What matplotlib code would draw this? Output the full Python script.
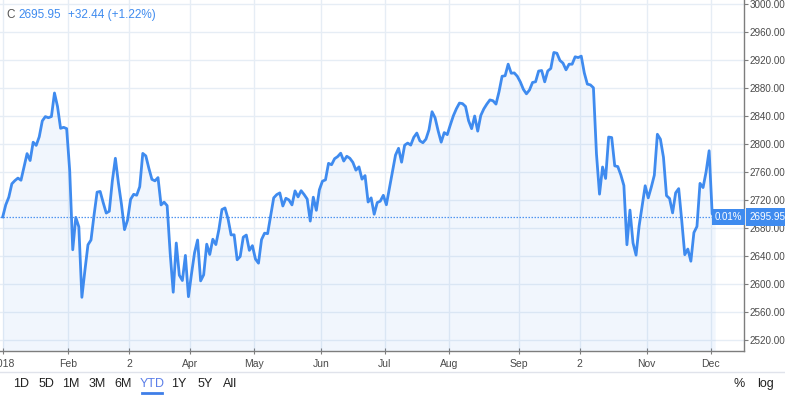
import matplotlib.pyplot as plt
import numpy as np
import pandas as pd
from matplotlib.lines import Line2D

# S&P 500 daily closes, 2018 YTD
holidays = ["2018-01-01", "2018-01-15", "2018-02-19", "2018-03-30", "2018-05-28",
            "2018-07-04", "2018-09-03", "2018-11-22", "2018-12-05"]
dates = pd.bdate_range("2018-01-02", "2018-12-06")
dates = dates[~dates.isin(pd.to_datetime(holidays))]

closes = [
    # Jan
    2695.81, 2713.06, 2723.99, 2743.15, 2747.71, 2751.29, 2748.23, 2767.56, 2786.24, 2776.42,
    2802.56, 2798.03, 2810.30, 2832.97, 2839.13, 2837.54, 2839.25, 2872.87, 2853.53, 2822.43,
    2823.81,
    # Feb
    2821.98, 2762.13, 2648.94, 2695.14, 2681.66, 2581.00, 2619.55, 2656.00, 2662.94, 2698.63,
    2731.20, 2732.22, 2716.26, 2701.33, 2703.96, 2747.30, 2779.60, 2744.28, 2713.83,
    # Mar
    2677.67, 2691.25, 2720.94, 2728.12, 2726.80, 2738.97, 2786.57, 2783.02, 2765.31, 2749.48,
    2747.33, 2752.01, 2712.92, 2716.94, 2711.93, 2643.69, 2588.26, 2658.55, 2612.62, 2605.00,
    2640.87,
    # Apr
    2581.88, 2614.45, 2644.69, 2662.84, 2604.47, 2613.16, 2656.87, 2642.19, 2663.99, 2656.30,
    2677.84, 2706.39, 2708.64, 2693.13, 2670.14, 2670.29, 2634.56, 2639.40, 2666.94, 2669.91,
    2648.05,
    # May
    2654.80, 2635.67, 2629.73, 2663.42, 2672.63, 2671.92, 2697.79, 2723.07, 2727.72, 2730.13,
    2711.45, 2722.46, 2720.13, 2712.97, 2733.01, 2724.44, 2733.29, 2727.76, 2721.33, 2689.86,
    2724.01, 2705.27,
    # Jun
    2734.62, 2746.87, 2748.80, 2772.35, 2770.37, 2779.03, 2782.00, 2786.85, 2775.63, 2782.49,
    2779.66, 2773.75, 2762.59, 2767.32, 2749.76, 2754.88, 2717.07, 2723.06, 2699.63, 2716.31,
    2718.37,
    # Jul
    2726.71, 2713.22, 2736.61, 2759.82, 2784.17, 2793.84, 2774.02, 2798.29, 2801.31, 2798.43,
    2809.55, 2815.62, 2804.49, 2801.83, 2806.98, 2820.40, 2846.07, 2837.44, 2818.82, 2802.60,
    2816.29,
    # Aug
    2813.36, 2827.22, 2840.35, 2850.40, 2858.45, 2857.70, 2853.58, 2833.28, 2821.93, 2839.96,
    2818.37, 2840.69, 2850.13, 2857.05, 2862.96, 2861.82, 2856.98, 2874.69, 2896.74, 2897.52,
    2914.04, 2901.13, 2901.52,
    # Sep
    2896.72, 2888.60, 2878.05, 2871.68, 2877.13, 2887.89, 2888.92, 2904.18, 2904.98, 2888.80,
    2904.31, 2907.95, 2930.75, 2929.67, 2919.37, 2915.56, 2905.97, 2914.00, 2913.98,
    # Oct
    2924.59, 2923.43, 2925.51, 2901.61, 2885.57, 2884.43, 2880.34, 2785.68, 2728.37, 2767.13,
    2750.79, 2809.92, 2809.21, 2768.78, 2767.78, 2755.88, 2740.69, 2656.10, 2705.57, 2658.69,
    2641.25, 2682.63, 2711.74,
    # Nov
    2740.37, 2723.06, 2738.31, 2755.45, 2813.89, 2806.83, 2781.01, 2726.22, 2722.18, 2701.58,
    2730.20, 2736.27, 2690.73, 2641.89, 2649.93, 2632.56, 2673.45, 2682.17, 2743.79, 2737.76,
    2760.17,
    # Dec
    2790.37, 2700.06, 2695.95,
]

tick_dates = ["2018-01-02", "2018-02-01", "2018-03-02", "2018-04-02", "2018-05-01", "2018-06-01",
              "2018-07-02", "2018-08-01", "2018-09-04", "2018-10-02", "2018-11-01", "2018-12-03"]
tick_labels = ["2018", "Feb", "2", "Apr", "May", "Jun", "Jul", "Aug", "Sep", "2", "Nov", "Dec"]
y_ticks = np.arange(2520, 3001, 40)

header_change = "+32.44 (+1.22%)"
ranges = ["1D", "5D", "1M", "3M", "6M", "YTD", "1Y", "5Y", "All"]

blue = "#3f8bef"
grid_c = "#e6edf5"
txt_c = "#4a4a4a"
plt.rcParams["font.family"] = ["Liberation Sans", "DejaVu Sans"]

closes = np.array(closes)
idx = np.arange(len(closes))
ticks = [dates.get_loc(pd.Timestamp(d)) + 0.5 for d in tick_dates]
ticks[0] = 0.2

fig = plt.figure(figsize=(7.85, 3.98), dpi=100)
ax = fig.add_axes([0, 1 - 351 / 398, 744 / 785, 351 / 398])

ymin, ymax = 2504.3, 3005.7
ax.fill_between(idx, closes, ymin, color=blue, alpha=0.07, lw=0)
ax.plot(idx, closes, color=blue, lw=2.0, solid_joinstyle="round", zorder=3)
ax.axhline(closes[0], xmin=0, xmax=715 / 744, color=blue, lw=0.9, ls=(0, (1.2, 1.2)),
           alpha=0.9, zorder=2)

ax.set_xlim(-0.89, 243.45)
ax.set_ylim(ymin, ymax)
ax.set_xticks(ticks)
ax.set_xticklabels(tick_labels)
ax.set_yticks(y_ticks)
ax.set_yticklabels([f"{v:.2f}" for v in y_ticks])
ax.yaxis.tick_right()
ax.grid(True, color=grid_c, lw=1)
ax.set_axisbelow(True)

for s in ["left", "top"]:
    ax.spines[s].set_visible(False)
for s in ["right", "bottom"]:
    ax.spines[s].set_color("#7d7d7d")
    ax.spines[s].set_linewidth(1)
ax.tick_params(axis="y", direction="out", length=3, pad=1, color="#7d7d7d",
               labelsize=7.1, labelcolor=txt_c)
ax.tick_params(axis="x", direction="inout", length=4, pad=4, color="#7d7d7d",
               labelsize=7.5, labelcolor=txt_c)

# last value labels
pct = (closes[-1] / closes[0] - 1) * 100
ax.annotate(f"{pct:.2f}%", xy=(742 / 744, closes[-1]), xycoords=("axes fraction", "data"),
            ha="right", va="center", fontsize=7, color="white",
            bbox=dict(boxstyle="square,pad=0.3", fc=blue, ec="none"), zorder=5,
            annotation_clip=False)
ax.annotate(f"{closes[-1]:.2f}", xy=(1.0, closes[-1]), xycoords=("axes fraction", "data"),
            xytext=(4, 0), textcoords="offset points",
            ha="left", va="center", fontsize=7.1, color="white",
            bbox=dict(boxstyle="square,pad=0.4", fc=blue, ec="none"), zorder=5,
            annotation_clip=False)

# header
fig.text(6 / 785, 1 - 15 / 398, "C", fontsize=8.5, color="#555555", va="center")
fig.text(18 / 785, 1 - 15 / 398, f"{closes[-1]:.2f}", fontsize=8.5, color=blue, va="center")
fig.text(68 / 785, 1 - 15 / 398, header_change, fontsize=8.5, color=blue, va="center")

# range toolbar
fig.add_artist(Line2D([0, 1], [1 - 372 / 398] * 2, color="#e0e3eb", lw=1))
range_x = [21, 46, 71, 97, 123, 152, 179, 205, 230]
for r, x in zip(ranges, range_x):
    c = "#5b7ee8" if r == "YTD" else "#222222"
    fig.text(x / 785, 1 - 384 / 398, r, fontsize=9, color=c, ha="center", va="center")
fig.add_artist(Line2D([142 / 785, 162 / 785], [1 - 393 / 398] * 2, color="#3f7ee8", lw=2))
fig.text(739 / 785, 1 - 384 / 398, "%", fontsize=9, color="#222222", ha="center", va="center")
fig.text(765 / 785, 1 - 384 / 398, "log", fontsize=9, color="#222222", ha="center", va="center")

fig.savefig("out.png", dpi=100)
